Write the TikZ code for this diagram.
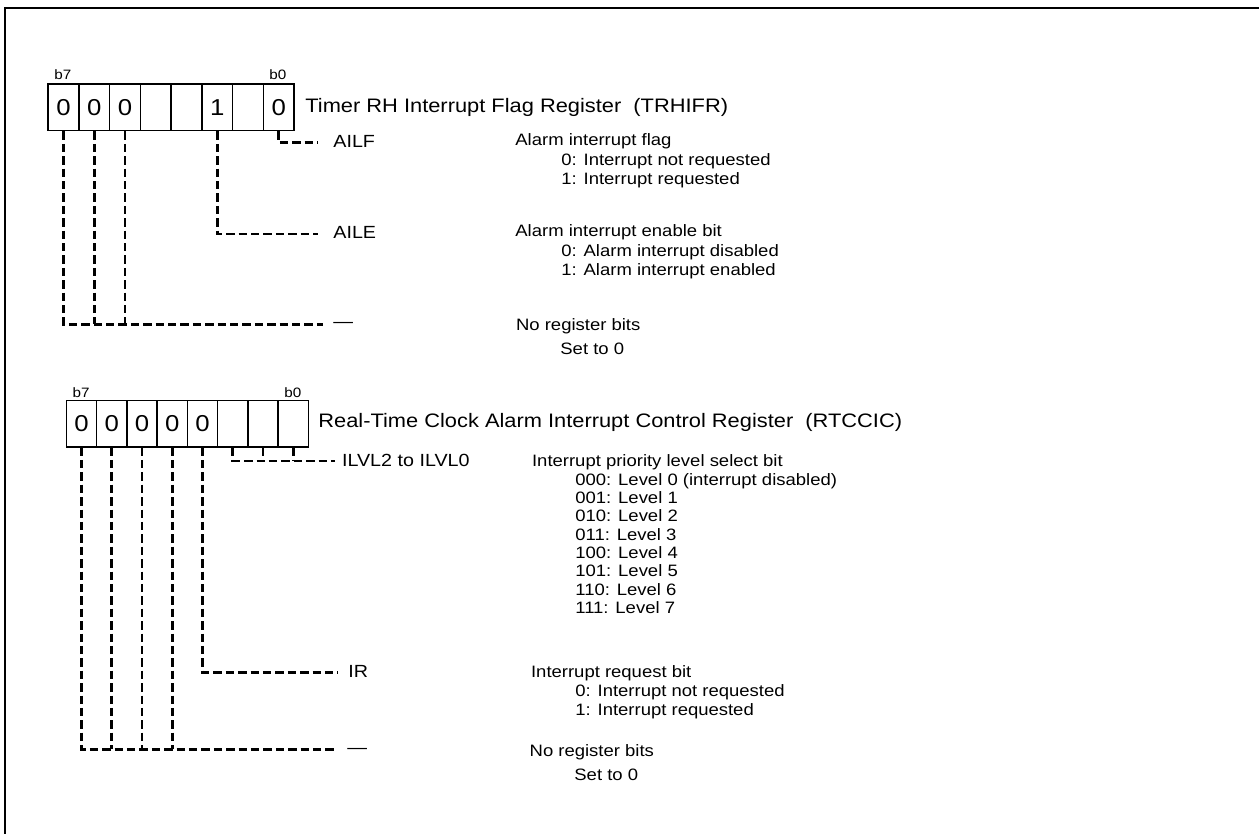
\documentclass[tikz,border=0pt]{standalone}
\usepackage{fontspec}
\setmainfont[FakeStretch=1.12]{Liberation Sans}
\begin{document}
\begin{tikzpicture}[x=0.5pt,y=-0.5pt,
  cellA/.style={draw, line width=0.75pt, minimum width=15.375pt, minimum height=23.35pt, inner sep=0pt, anchor=north west, font=\fontsize{11.5}{13}\selectfont},
  cellB/.style={draw, line width=0.75pt, minimum width=15.125pt, minimum height=23pt, inner sep=0pt, anchor=north west, font=\fontsize{11.5}{13}\selectfont},
  dl/.style={line width=1.35pt, dash pattern=on 4.2pt off 2pt},
  desc/.style={anchor=base west, inner sep=0pt, font=\fontsize{8.25}{9.5}\selectfont},
  lbl/.style={anchor=base west, inner sep=0pt, font=\fontsize{8.8}{10}\selectfont},
  regtitle/.style={anchor=base west, inner sep=0pt, font=\fontsize{9.75}{11}\selectfont},
  blab/.style={anchor=base west, inner sep=0pt, font=\fontsize{6.8}{8}\selectfont}]
\useasboundingbox (0,0) rectangle (1259,834);
% frame
\draw[line width=0.65pt] (1259,8) -- (5,8) -- (5,834);

% ---------- Register A: TRHIFR ----------
\foreach \v [count=\i from 0] in {0,0,0,{},{},1,{},0} {
  \pgfmathtruncatemacro\b{7-\i}
  \node[cellA] (ra\b) at (47.3+30.75*\i,83.3) {\v};
}
\node[blab] (ra7l) at (54,80) {b7};
\node[blab] (ra0l) at (269,80) {b0};
\node[regtitle] (ta) at (305,112.7) {Timer RH Interrupt Flag Register\ \ (TRHIFR)};

\coordinate (ea0) at (318,142.7);
\draw[dl] (ra0.south) |- (ea0);
\node[lbl] (la0) at (333,147.2) {AILF};

\coordinate (ea2) at (318,234);
\draw[dl] (ra2.south) |- (ea2);
\node[lbl] (la2) at (333,238.7) {AILE};

\coordinate (eam) at (323,324.5);
\draw[dl] (ra7.south) |- (eam);
\draw[dl] (ra6.south) -- (ra6.south |- eam);
\draw[dl] (ra5.south) -- (ra5.south |- eam);
\node[lbl] (lam) at (333,328) {—};

\node[desc] (da1) at (515,146) {Alarm interrupt flag};
\node[desc] (da2) at (561,166) {0: Interrupt not requested};
\node[desc] (da3) at (561,185) {1: Interrupt requested};
\node[desc] (da4) at (515,237) {Alarm interrupt enable bit};
\node[desc] (da5) at (561,257) {0: Alarm interrupt disabled};
\node[desc] (da6) at (561,275.5) {1: Alarm interrupt enabled};
\node[desc] (da7) at (515.7,330.7) {No register bits};
\node[desc] (da8) at (560,355) {Set to 0};

% ---------- Register B: RTCCIC ----------
\foreach \v [count=\i from 0] in {0,0,0,0,0,{},{},{}} {
  \pgfmathtruncatemacro\b{7-\i}
  \node[cellB] (rb\b) at (65.7+30.25*\i,400) {\v};
}
\node[blab] (rb7l) at (72.3,397.7) {b7};
\node[blab] (rb0l) at (284,397.7) {b0};
\node[regtitle] (tb) at (318,427.7) {Real-Time Clock Alarm Interrupt Control Register\ \ (RTCCIC)};

\coordinate (eb0) at (335,461);
\draw[dl] (rb2.south) |- (eb0);
\draw[dl] (rb1.south) -- (rb1.south |- eb0);
\draw[dl] (rb0.south) -- (rb0.south |- eb0);
\node[lbl] (lb0) at (341.7,466.3) {ILVL2 to ILVL0};

\coordinate (eb3) at (338,672.3);
\draw[dl] (rb3.south) |- (eb3);
\node[lbl] (lb3) at (348,677.3) {IR};

\coordinate (ebm) at (336,749.3);
\draw[dl] (rb7.south) |- (ebm);
\draw[dl] (rb6.south) -- (rb6.south |- ebm);
\draw[dl] (rb5.south) -- (rb5.south |- ebm);
\draw[dl] (rb4.south) -- (rb4.south |- ebm);
\node[lbl] (lbm) at (347,753) {—};

\node[desc] (db1) at (531.7,466.7) {Interrupt priority level select bit};
\node[desc] (db2) at (575,485) {000: Level 0 (interrupt disabled)};
\node[desc] (db3) at (575,503.3) {001: Level 1};
\node[desc] (db4) at (575,521.7) {010: Level 2};
\node[desc] (db5) at (575,540) {011: Level 3};
\node[desc] (db6) at (575,558.3) {100: Level 4};
\node[desc] (db7) at (575,576.7) {101: Level 5};
\node[desc] (db8) at (575,595) {110: Level 6};
\node[desc] (db9) at (575,613.3) {111: Level 7};
\node[desc] (db10) at (530.7,677.3) {Interrupt request bit};
\node[desc] (db11) at (575,696.7) {0: Interrupt not requested};
\node[desc] (db12) at (575,715) {1: Interrupt requested};
\node[desc] (db13) at (529.3,756) {No register bits};
\node[desc] (db14) at (574,780) {Set to 0};
\end{tikzpicture}
\end{document}
